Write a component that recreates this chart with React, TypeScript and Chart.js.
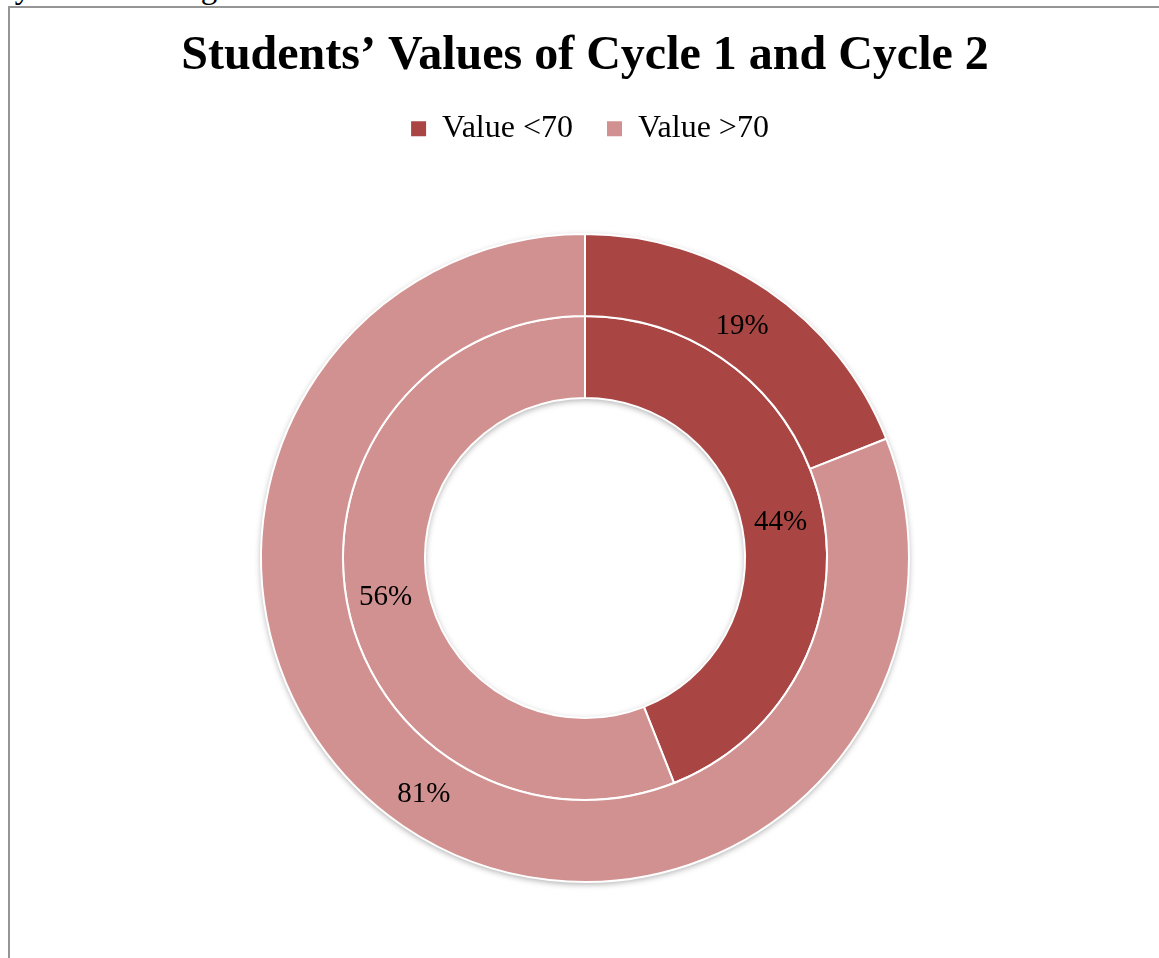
import React, { useEffect, useRef } from "react";
import { Chart, registerables } from "chart.js";

Chart.register(...registerables);

const chartTitle = "Students’ Values of Cycle 1 and Cycle 2";
const categories = ["Value <70", "Value >70"];
const cycle2Values = [19, 81]; // outer ring
const cycle1Values = [44, 56]; // inner ring
const sliceColors = ["#A94644", "#D19190"];

const SERIF = "'Times New Roman', 'Liberation Serif', serif";

const ringShadow = {
  id: "ringShadow",
  beforeDatasetsDraw(chart: any) {
    const outer = chart.getDatasetMeta(0).data[0] as any;
    const inner = chart.getDatasetMeta(chart.data.datasets.length - 1).data[0] as any;
    if (!outer || !inner) return;
    const ctx = chart.ctx;
    ctx.save();
    ctx.beginPath();
    ctx.arc(outer.x, outer.y, outer.outerRadius, 0, Math.PI * 2);
    ctx.arc(outer.x, outer.y, inner.innerRadius, 0, Math.PI * 2, true);
    ctx.closePath();
    ctx.shadowColor = "rgba(0,0,0,0.35)";
    ctx.shadowBlur = 6;
    ctx.shadowOffsetY = 2;
    ctx.fillStyle = "#D19190";
    ctx.fill();
    ctx.restore();
  },
};

const legendNudge = {
  id: "legendNudge",
  afterLayout(chart: any) {
    if (chart.legend) {
      chart.legend.left += 5;
      chart.legend.right += 5;
    }
  },
};

const sliceLabels = {
  id: "sliceLabels",
  afterDatasetsDraw(chart: any) {
    const ctx = chart.ctx;
    ctx.save();
    ctx.font = `29px ${SERIF}`;
    ctx.fillStyle = "#000";
    ctx.textAlign = "center";
    ctx.textBaseline = "middle";
    chart.data.datasets.forEach((ds: any, di: number) => {
      const meta = chart.getDatasetMeta(di);
      meta.data.forEach((arc: any, i: number) => {
        const p = arc.tooltipPosition();
        ctx.fillText(`${ds.data[i]}%`, p.x - 2, p.y + 2);
      });
    });
    ctx.restore();
  },
};

function DoughnutChart() {
  const ref = useRef<HTMLCanvasElement | null>(null);
  useEffect(() => {
    if (!ref.current) return;
    const chart = new Chart(ref.current, {
      type: "doughnut",
      data: {
        labels: categories,
        datasets: [
          {
            label: "Cycle 2",
            data: cycle2Values,
            backgroundColor: sliceColors,
            borderColor: "#ffffff",
            borderWidth: 2,
          },
          {
            label: "Cycle 1",
            data: cycle1Values,
            backgroundColor: sliceColors,
            borderColor: "#ffffff",
            borderWidth: 2,
          },
        ],
      },
      options: {
        responsive: false,
        animation: false,
        events: [],
        radius: 324,
        cutout: "49.4%",
        layout: { padding: { left: 1, right: 0, top: 0, bottom: 6.8 } },
        plugins: {
          tooltip: { enabled: false },
          title: {
            display: true,
            text: chartTitle,
            color: "#000",
            font: { family: SERIF, size: 48, weight: "bold", lineHeight: 0.85 },
            padding: { top: 28, bottom: 2 },
          },
          legend: {
            display: true,
            position: "top",
            labels: {
              color: "#000",
              boxWidth: 15,
              boxHeight: 15,
              padding: 34,
              font: { family: SERIF, size: 32 },
              generateLabels: (c: any) =>
                Chart.overrides.doughnut.plugins.legend.labels
                  .generateLabels(c)
                  .map((l: any) => ({ ...l, lineWidth: 0 })),
            },
          },
        },
      } as any,
      plugins: [ringShadow, sliceLabels, legendNudge],
    });
    return () => chart.destroy();
  }, []);
  return (
    <canvas
      ref={ref}
      width={1149}
      height={960}
      style={{ display: "block", width: 1149, height: 960 }}
    />
  );
}

export default function App() {
  return (
    <div>
      <div
        style={{
          position: "absolute",
          left: 0,
          top: -28.6,
          fontFamily: SERIF,
          fontSize: 33,
          lineHeight: "33px",
          whiteSpace: "nowrap",
          color: "#000",
        }}
      >
        ayed on the diagram below.
      </div>
      <div
        style={{
          position: "absolute",
          left: 8,
          top: 6,
          width: 1151,
          height: 952,
          overflow: "hidden",
          borderTop: "2px solid #959595",
          borderLeft: "2px solid #959595",
          boxSizing: "border-box",
          background: "#fff",
        }}
      >
        <DoughnutChart />
      </div>
    </div>
  );
}
